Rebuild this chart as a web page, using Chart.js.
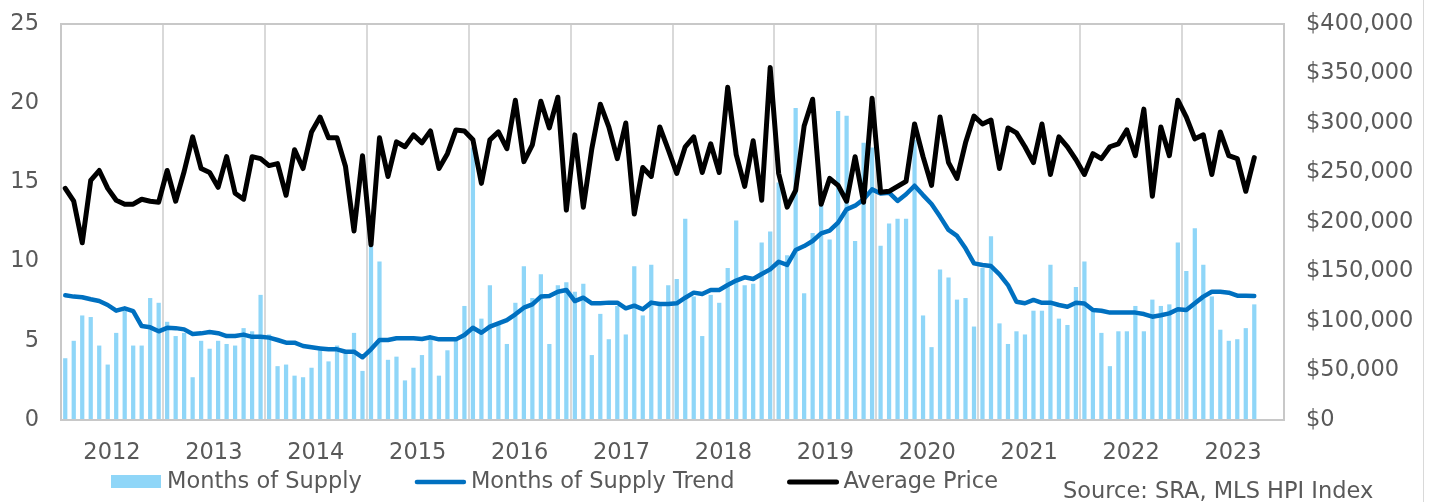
<!DOCTYPE html>
<html><head><meta charset="utf-8">
<script src="https://cdn.jsdelivr.net/npm/chart.js@4.4.1/dist/chart.umd.min.js"></script>
<style>html,body{margin:0;padding:0;background:#fff;}#wrap{width:1432px;height:502px;position:relative;}</style>
</head><body><div id="wrap"><canvas id="c" width="1432" height="502"></canvas></div>
<script>
// ---- data ----
const years = ['2012','2013','2014','2015','2016','2017','2018','2019','2020','2021','2022','2023'];
const monthNums = ['01','02','03','04','05','06','07','08','09','10','11','12'];
const categories = [];
years.forEach(y => monthNums.forEach(m => categories.push(y + '-' + m)));

const seriesNames = ['Months of Supply', 'Months of Supply Trend', 'Average Price'];
const sourceNote = 'Source: SRA, MLS HPI Index';

const monthsOfSupply = [
 3.9,5.0,6.6,6.5,4.7,3.5,5.5,6.9,4.7,4.7,7.7,7.4,
 6.2,5.3,5.5,2.7,5.0,4.5,5.0,4.8,4.7,5.8,5.6,7.9,
 5.4,3.4,3.5,2.8,2.7,3.3,4.4,3.7,4.7,4.2,5.5,3.1,
 11.1,10.0,3.8,4.0,2.5,3.3,4.1,5.1,2.8,4.4,5.1,7.2,
 17.2,6.4,8.5,6.0,4.8,7.4,9.7,7.7,9.2,4.8,8.5,8.7,
 8.1,8.6,4.1,6.7,5.1,7.2,5.4,9.7,6.6,9.8,7.4,8.5,
 8.9,12.7,7.8,5.3,7.9,7.4,9.6,12.6,8.5,8.6,11.2,11.9,
 15.0,10.4,19.7,8.0,11.8,14.0,11.4,19.5,19.2,11.3,17.5,17.2,
 11.0,12.4,12.7,12.7,17.7,6.6,4.6,9.5,9.0,7.6,7.7,5.9,
 9.6,11.6,6.1,4.8,5.6,5.4,6.9,6.9,9.8,6.4,6.0,8.4,
 10.0,6.9,5.5,3.4,5.6,5.6,7.2,5.6,7.6,7.2,7.3,11.2,
 9.4,12.1,9.8,7.8,5.7,5.0,5.1,5.8,7.3,null,null,null
];
const monthsOfSupplyTrend = [
 7.87,7.79,7.75,7.62,7.51,7.26,6.90,7.05,6.88,5.93,5.85,5.60,
 5.82,5.80,5.72,5.43,5.47,5.55,5.48,5.30,5.30,5.39,5.25,5.26,
 5.20,5.05,4.88,4.88,4.67,4.59,4.52,4.46,4.46,4.31,4.31,3.96,
 4.46,5.05,5.05,5.16,5.16,5.16,5.11,5.22,5.09,5.09,5.09,5.37,
 5.82,5.51,5.89,6.10,6.31,6.67,7.09,7.30,7.79,7.83,8.10,8.21,
 7.51,7.72,7.37,7.37,7.41,7.41,7.05,7.22,6.99,7.41,7.32,7.32,
 7.37,7.72,8.04,7.95,8.21,8.21,8.52,8.80,9.01,8.90,9.22,9.51,
 9.99,9.79,10.73,10.98,11.30,11.78,11.95,12.46,13.30,13.53,13.93,14.56,
 14.30,14.35,13.83,14.25,14.79,14.20,13.64,12.84,12.00,11.62,10.84,9.89,
 9.79,9.72,9.20,8.52,7.47,7.37,7.58,7.40,7.41,7.26,7.15,7.40,
 7.35,6.94,6.90,6.78,6.78,6.78,6.78,6.69,6.52,6.61,6.73,6.99,
 6.94,7.37,7.79,8.10,8.10,8.04,7.85,7.85,7.83,null,null,null
];
const averagePrice = [
 234000,221000,179000,242000,252000,234000,222000,218000,218000,223000,221000,220000,
 252000,221000,251000,286000,254000,250000,235000,266000,229000,223000,266000,264000,
 257000,259000,227000,273000,254000,291000,306000,285000,285000,256000,191000,267000,
 177000,285000,246000,281000,276000,288000,280000,292000,254000,269000,293000,292000,
 283000,239000,283000,291000,274000,323000,261000,278000,322000,295000,326000,212000,
 288000,215000,274000,319000,296000,264000,300000,208000,255000,246000,296000,273000,
 249000,276000,286000,250000,279000,250000,336000,268000,236000,282000,222000,356000,
 249000,215000,232000,297000,324000,218000,244000,237000,221000,266000,220000,325000,
 230000,231000,236000,241000,299000,266000,237000,306000,260000,244000,280000,307000,
 299000,303000,254000,295000,290000,276000,260000,299000,248000,286000,276000,263000,
 248000,269000,264000,276000,279000,293000,267000,314000,226000,296000,267000,323000,
 306000,284000,288000,248000,291000,267000,264000,231000,265000,null,null,null
];
const supplyAxis = {min: 0, max: 25, step: 5};
const priceAxis = {min: 0, max: 400000, step: 50000};

// ---- styles ----
const FONT = 'DejaVu Sans';
const TXT = '#595959';
const BAR_COLOR = '#8FD6F8';
const TREND_COLOR = '#0070C0';
const PRICE_COLOR = '#000000';
const FRAME = '#C8C8C8';

const decor = {
  id: 'decor',
  afterDraw(chart) {
    const {ctx, chartArea: a} = chart;
    ctx.save();
    ctx.strokeStyle = FRAME; ctx.lineWidth = 2;
    ctx.strokeRect(a.left, a.top, a.right - a.left, a.bottom - a.top);
    // legend
    ctx.font = '22.5px "' + FONT + '"';
    ctx.textBaseline = 'middle'; ctx.textAlign = 'left';
    let x = 111; const yMid = 482;
    chart.data.datasets.forEach(ds => {
      if (ds.type === 'bar') {
        ctx.fillStyle = ds.backgroundColor;
        ctx.fillRect(x, 475, 50, 13);
      } else {
        ctx.strokeStyle = ds.borderColor; ctx.lineWidth = ds.borderWidth; ctx.lineCap = 'round';
        ctx.beginPath(); ctx.moveTo(x + 2, yMid); ctx.lineTo(x + 49, yMid); ctx.stroke();
      }
      ctx.fillStyle = TXT;
      ctx.fillText(ds.label, x + 56, yMid);
      x += 56 + ctx.measureText(ds.label).width + 53;
    });
    ctx.fillText(sourceNote, 1063, 492);
    // outer right edge line
    ctx.strokeStyle = '#D9D9D9'; ctx.lineWidth = 1;
    ctx.beginPath(); ctx.moveTo(1423.5, 0); ctx.lineTo(1423.5, 502); ctx.stroke();
    ctx.restore();
  }
};

function fixY(width) {
  return s => { s.width = width; s.paddingTop = 0; s.paddingBottom = 0; };
}

new Chart(document.getElementById('c'), {
  data: {
    labels: categories,
    datasets: [
      {type: 'bar', label: seriesNames[0], data: monthsOfSupply, yAxisID: 'y',
       backgroundColor: BAR_COLOR, categoryPercentage: 1.0, barPercentage: 0.5, order: 3},
      {type: 'line', label: seriesNames[1], data: monthsOfSupplyTrend, yAxisID: 'y',
       borderColor: TREND_COLOR, borderWidth: 4.5, pointRadius: 0, tension: 0,
       borderJoinStyle: 'round', borderCapStyle: 'round', order: 2},
      {type: 'line', label: seriesNames[2], data: averagePrice, yAxisID: 'y1',
       borderColor: PRICE_COLOR, borderWidth: 5, pointRadius: 0, tension: 0,
       borderJoinStyle: 'round', borderCapStyle: 'round', order: 1}
    ]
  },
  options: {
    responsive: false, animation: false, devicePixelRatio: 1,
    layout: {padding: {top: 24, left: 0, right: 0, bottom: 0}},
    plugins: {legend: {display: false}, tooltip: {enabled: false}, title: {display: false}},
    scales: {
      x: {
        type: 'category', offset: true,
        grid: {offset: true, drawTicks: false, lineWidth: 2,
               color: c => (c.index % 12 === 0 ? '#D9D9D9' : 'rgba(0,0,0,0)')},
        border: {display: true, color: FRAME, width: 2},
        ticks: {autoSkip: false, maxRotation: 0, minRotation: 0, padding: 20, labelOffset: -4.25,
                color: TXT, font: {family: FONT, size: 22.5},
                callback: (v, i) => (i % 12 === 6 ? years[Math.floor(i / 12)] : '')},
        afterFit: s => { s.height = 82; s.paddingLeft = 0; s.paddingRight = 0; }
      },
      y: {
        position: 'left', min: supplyAxis.min, max: supplyAxis.max,
        grid: {display: false, drawTicks: false},
        border: {display: true, color: FRAME, width: 2},
        ticks: {stepSize: supplyAxis.step, padding: 22, color: TXT, font: {family: FONT, size: 22.5}},
        afterFit: fixY(61)
      },
      y1: {
        position: 'right', min: priceAxis.min, max: priceAxis.max,
        grid: {display: false, drawTicks: false},
        border: {display: true, color: FRAME, width: 2},
        ticks: {stepSize: priceAxis.step, padding: 22, color: TXT, font: {family: FONT, size: 22.5},
                callback: v => '$' + Number(v).toLocaleString('en-US')},
        afterFit: fixY(148)
      }
    }
  },
  plugins: [decor]
});
</script></body></html>
